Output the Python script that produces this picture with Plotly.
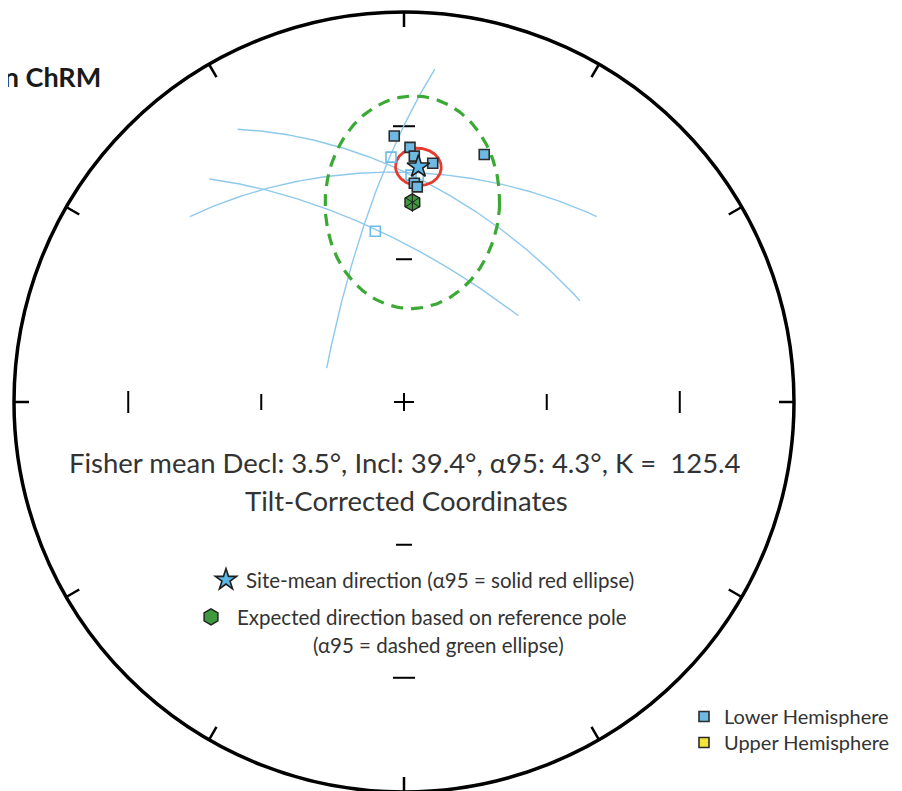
import numpy as np
import plotly.graph_objects as go

# ---------------- data (declination / inclination, degrees) ----------------
LOWER_DEC = [357.9, 1.35, 2.4, 6.86, 17.96, 2.7, 3.53]
LOWER_INC = [32.3, 35.0, 37.0, 38.3, 33.7, 43.2, 44.0]
UPPER_DEC = []
UPPER_INC = []
GCPT_DEC = [356.96, 1.77, 3.63, 350.47]          # open squares
GCPT_INC = [37.2, 41.4, 41.7, 53.4]
ARC_START_DEC = [5.3, 328.6, 310.9, 318.9]        # great-circle segments
ARC_START_INC = [15.4, 19.2, 28.2, 25.1]
ARC_END_DEC = [293.6, 60.1, 46.1, 53.0]
ARC_END_INC = [72.4, 46.8, 32.0, 59.9]
MEAN_DEC, MEAN_INC, MEAN_A95, MEAN_K = 3.5, 39.4, 4.3, 125.4
EXP_DEC, EXP_INC = 2.4, 47.5
EXP_DDEC, EXP_DINC = 25.0, 23.7
RIM_TICKS = list(range(0, 360, 30))
AXIS_TICK_INC = [30, 60]

FONT = "Lato, 'Open Sans', sans-serif"
TXT = "#333333"

# page body has an 8px margin: figure is placed at (8, 8) in the window
OFF = 8
W, H = 902 - OFF, 791 - OFF
R_PX, CX, CY = 390.0, 404.0, 402.0


def px(x):
    return (x - OFF) / W


def py(y):
    return 1 - (y - OFF) / H


def d2v(dec, inc):
    d, i = np.radians(dec), np.radians(inc)
    return np.array([np.cos(i) * np.cos(d), np.cos(i) * np.sin(d), np.sin(i)])


def proj_vec(v):
    v = np.asarray(v, dtype=float)
    n, e, dn = v[0], v[1], np.abs(v[2])
    th = np.arccos(np.clip(dn, -1, 1))
    r = np.sqrt(2) * np.sin(th / 2)
    az = np.arctan2(e, n)
    return r * np.sin(az), r * np.cos(az)


def proj(dec, inc):
    return proj_vec(d2v(np.asarray(dec, float), np.asarray(inc, float)))


fig = go.Figure()

# primitive circle
fig.add_shape(type="circle", xref="x", yref="y", x0=-1, y0=-1, x1=1, y1=1,
              line=dict(color="black", width=3.5), layer="below")

# rim ticks
TL = 15 / R_PX
tx, ty = [], []
for a in RIM_TICKS:
    s, c = np.sin(np.radians(a)), np.cos(np.radians(a))
    tx += [s, (1 - TL) * s, None]
    ty += [c, (1 - TL) * c, None]
fig.add_trace(go.Scatter(x=tx, y=ty, mode="lines", line=dict(color="black", width=2.5),
                         hoverinfo="skip", showlegend=False))

# inner axis ticks and centre cross
ix, iy = [], []
for inc in AXIS_TICK_INC:
    r = np.sqrt(2) * np.sin(np.radians(90 - inc) / 2)
    h = (11 if inc == 30 else 8) / R_PX
    for sgn in (1, -1):
        ix += [sgn * r, sgn * r, None]; iy += [-h, h, None]
        ix += [-h, h, None]; iy += [sgn * r, sgn * r, None]
c = 10 / R_PX
ix += [-c, c, None, 0, 0, None]
iy += [0, 0, None, -c * 0.9, c * 0.9, None]
fig.add_trace(go.Scatter(x=ix, y=iy, mode="lines", line=dict(color="black", width=2),
                         hoverinfo="skip", showlegend=False))

# great-circle arcs
for sd, si, ed, ei in zip(ARC_START_DEC, ARC_START_INC, ARC_END_DEC, ARC_END_INC):
    a, b = d2v(sd, si), d2v(ed, ei)
    om = np.arccos(np.clip(a @ b, -1, 1))
    t = np.linspace(0, 1, 200)
    pts = (np.sin((1 - t)[:, None] * om) * a + np.sin(t[:, None] * om) * b) / np.sin(om)
    x, y = proj_vec(pts.T)
    fig.add_trace(go.Scatter(x=x, y=y, mode="lines", line=dict(color="#8ec9ec", width=1.4),
                             hoverinfo="skip", showlegend=False))

# expected direction ellipse (dashed green)
ex, ey = proj(EXP_DEC, EXP_INC)
th0 = np.radians(90 - EXP_INC)
r0 = np.sqrt(2) * np.sin(th0 / 2)
sa = r0 * np.radians(EXP_DDEC)
sb = np.sqrt(2) / 2 * np.cos(th0 / 2) * np.radians(EXP_DINC)
dr = np.radians(EXP_DEC)
t = np.linspace(0, 2 * np.pi, 300)
u = sa * np.cos(t); w = sb * np.sin(t)
gx = ex + u * np.cos(dr) + w * np.sin(dr)
gy = ey - u * np.sin(dr) + w * np.cos(dr)
fig.add_trace(go.Scatter(x=gx, y=gy, mode="lines",
                         line=dict(color="#3aaa35", width=3.2, dash="12px,8px"),
                         hoverinfo="skip", showlegend=False))

# alpha95 small circle (solid red)
m = d2v(MEAN_DEC, MEAN_INC)
ref = np.array([0, 0, 1.0])
u1 = np.cross(m, ref); u1 /= np.linalg.norm(u1)
u2 = np.cross(m, u1)
al = np.radians(MEAN_A95)
pts = np.cos(al) * m[:, None] + np.sin(al) * (np.outer(u1, np.cos(t)) + np.outer(u2, np.sin(t)))
rx, ry = proj_vec(pts)
fig.add_trace(go.Scatter(x=rx, y=ry, mode="lines", line=dict(color="#e63a2e", width=2.8),
                         hoverinfo="skip", showlegend=False))

# open squares
ox, oy = proj(GCPT_DEC, GCPT_INC)
fig.add_trace(go.Scatter(x=ox, y=oy, mode="markers",
                         marker=dict(symbol="square-open", size=10, color="#6cbbe8",
                                     line=dict(width=1.6)),
                         showlegend=False))

# lower hemisphere squares
lx, ly = proj(LOWER_DEC, LOWER_INC)
fig.add_trace(go.Scatter(x=lx, y=ly, mode="markers", name="Lower Hemisphere",
                         legend="legend",
                         marker=dict(symbol="square", size=10, color="#6fb9e3",
                                     line=dict(color="#2b2b2b", width=1.6))))
ux, uy = proj(UPPER_DEC, UPPER_INC) if UPPER_DEC else ([None], [None])
fig.add_trace(go.Scatter(x=ux, y=uy, mode="markers", name="Upper Hemisphere",
                         legend="legend4",
                         marker=dict(symbol="square", size=10, color="#f3e43a",
                                     line=dict(color="#2b2b2b", width=1.6))))

# expected direction hexagon
fig.add_trace(go.Scatter(x=[ex], y=[ey], mode="markers", legend="legend3",
                         name="Expected direction based on reference pole",
                         marker=dict(symbol="hexagon", size=17, color="#3f9a3f",
                                     line=dict(color="#1f1f1f", width=1.4))))
for sym in ("y-up-open", "y-down-open"):
    fig.add_trace(go.Scatter(x=[ex], y=[ey], mode="markers", showlegend=False,
                             hoverinfo="skip",
                             marker=dict(symbol=sym, size=12, color="#1f1f1f",
                                         line=dict(color="#1f1f1f", width=1))))

# site mean star
mx, my = proj(MEAN_DEC, MEAN_INC)
fig.add_trace(go.Scatter(x=[mx], y=[my], mode="markers", legend="legend2",
                         name="Site-mean direction (α95 = solid red ellipse)",
                         marker=dict(symbol="star", size=17, color="#5cb6e6",
                                     line=dict(color="#1f1f1f", width=1.6))))

# text
fig.add_annotation(x=px(103), y=py(76), xref="paper", yref="paper",
                   text="<b>Site-mean ChRM</b>",
                   showarrow=False, xanchor="right", yanchor="middle",
                   font=dict(size=27, color="#1a1a1a", family=FONT))
fig.add_annotation(
    x=px(405), y=py(462), xref="paper", yref="paper",
    text=f"Fisher mean Decl: {MEAN_DEC}°, Incl: {MEAN_INC}°, α95: {MEAN_A95}°, K =  {MEAN_K}",
    showarrow=False, xanchor="center", yanchor="middle",
    font=dict(size=27.5, color=TXT, family=FONT))
fig.add_annotation(x=px(406), y=py(500), xref="paper", yref="paper",
                   text="Tilt-Corrected Coordinates", showarrow=False,
                   xanchor="center", yanchor="middle",
                   font=dict(size=27.5, color=TXT, family=FONT))
fig.add_annotation(x=px(438), y=py(645), xref="paper", yref="paper",
                   text="(α95 = dashed green ellipse)", showarrow=False,
                   xanchor="center", yanchor="middle",
                   font=dict(size=20.5, color=TXT, family=FONT))

leg_common = dict(xanchor="left", yanchor="top", bgcolor="rgba(0,0,0,0)")
fig.update_layout(
    width=W, height=H, margin=dict(l=0, r=0, t=0, b=0),
    paper_bgcolor="white", plot_bgcolor="white",
    xaxis=dict(range=[(OFF - CX) / R_PX, (902 - CX) / R_PX], visible=False, fixedrange=True),
    yaxis=dict(range=[(CY - 791) / R_PX, (CY - OFF) / R_PX], visible=False, fixedrange=True),
    legend=dict(x=px(684), y=py(697), font=dict(size=20, color=TXT, family=FONT),
                itemwidth=30, **leg_common),
    legend4=dict(x=px(684), y=py(723), font=dict(size=20, color=TXT, family=FONT),
                 itemwidth=30, **leg_common),
    legend2=dict(x=px(206), y=py(560), font=dict(size=20.5, color=TXT, family=FONT),
                 **leg_common),
    legend3=dict(x=px(185), y=py(597), font=dict(size=20.5, color=TXT, family=FONT),
                 itemwidth=42, **leg_common),
    showlegend=True,
)
fig.write_html("out.html")
